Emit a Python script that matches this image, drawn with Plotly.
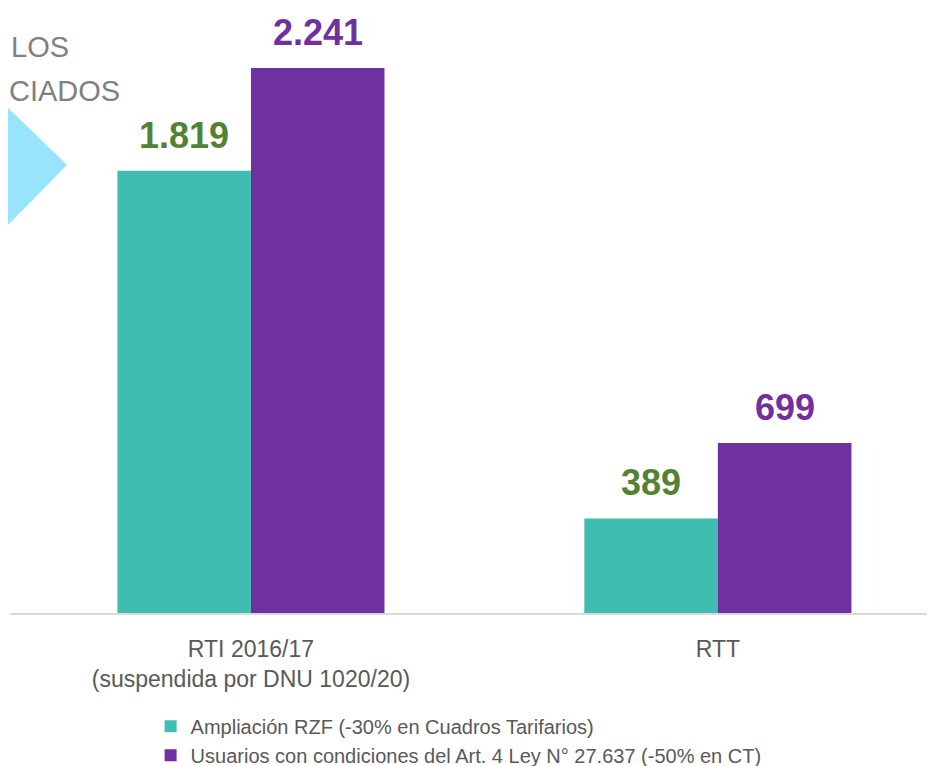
import plotly.graph_objects as go

categories = ["RTI 2016/17<br>(suspendida por DNU 1020/20)", "RTT"]
series_names = [
    "Ampliación RZF (-30% en Cuadros Tarifarios)",
    "Usuarios con condiciones del Art. 4 Ley N° 27.637 (-50% en CT)",
]
rzf_values = [1819, 389]
art4_values = [2241, 699]

bar_colors = ["#3FBDB1", "#7030A0"]
label_colors = ["#548235", "#7030A0"]
FONT = "Liberation Sans, Arial"

fig = go.Figure()
for name, vals, col in zip(series_names, [rzf_values, art4_values], bar_colors):
    fig.add_trace(go.Bar(x=categories, y=vals, name=name,
                         marker=dict(color=col, line=dict(color=col, width=0))))

# value labels above each bar
offsets = [-0.143, 0.143]
for vals, off, col in zip([rzf_values, art4_values], offsets, label_colors):
    for i, v in enumerate(vals):
        fig.add_annotation(x=i + off, y=v, xref="x", yref="y",
                           text="<b>" + f"{v:,}".replace(",", ".") + "</b>",
                           showarrow=False, yanchor="bottom", yshift=13,
                           font=dict(family=FONT, size=36, color=col))

# decorative leftovers from the slide
fig.add_shape(type="path", xref="paper", yref="paper",
              path="M -0.065 0.928 L 0.0616 0.7405 L -0.065 0.5438 Z",
              fillcolor="#98E3FD", line=dict(width=0), layer="below")
fig.add_annotation(x=0.0655, y=0.9355, xref="paper", yref="paper", text="LOS",
                   showarrow=False, xanchor="right", yanchor="middle",
                   font=dict(family=FONT, size=29, color="#808080"))
fig.add_annotation(x=0.121, y=0.8628, xref="paper", yref="paper", text="CIADOS",
                   showarrow=False, xanchor="right", yanchor="middle",
                   font=dict(family=FONT, size=29, color="#808080"))

fig.update_layout(
    width=927, height=758,
    margin=dict(l=2, r=0, t=0, b=153, autoexpand=False),
    plot_bgcolor="white", paper_bgcolor="white",
    barmode="group", bargap=0.428, bargroupgap=0,
    font=dict(family=FONT, color="#595959"),
    legend=dict(orientation="v", x=0.152, y=-0.155, xanchor="left", yanchor="top",
                font=dict(family=FONT, size=20, color="#595959"),
                bgcolor="rgba(0,0,0,0)", tracegroupgap=0),
    showlegend=True,
)
fig.update_xaxes(range=[-0.516, 1.465], showline=True, linecolor="#D9D9D9", linewidth=2,
                 ticks="", tickfont=dict(family=FONT, size=23, color="#595959"),
                 ticklabelstandoff=14)
fig.update_yaxes(range=[0, 2488], visible=False, showgrid=False)

fig.write_html("out.html")
